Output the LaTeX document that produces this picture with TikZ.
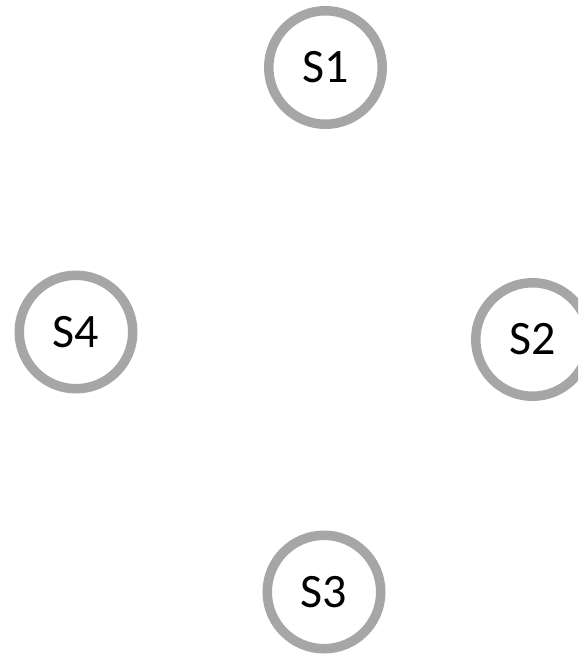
\documentclass[tikz,border=0pt]{standalone}
\usepackage{fontspec}
\setmainfont{Carlito}
\definecolor{ringgray}{HTML}{A6A6A6}
\begin{document}
\begin{tikzpicture}[x=1pt,y=-1pt,
  state/.style={circle,draw=ringgray,line width=9.5pt,fill=white,minimum size=113.5pt,inner sep=0pt,font=\fontsize{48}{52}\selectfont,text=black}]
\useasboundingbox (0,0) rectangle (578,655);
\clip (0,0) rectangle (578,655);
\node[state] (s1) at (325.5,67.5) {S1};
\node[state] (s2) at (532.5,339.5) {S2};
\node[state] (s3) at (324,592) {S3};
\node[state] (s4) at (76,332) {S4};
\end{tikzpicture}
\end{document}
